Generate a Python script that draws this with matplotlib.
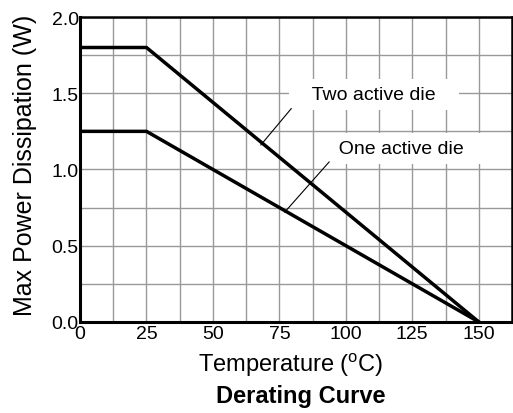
import matplotlib
matplotlib.use("Agg")
import matplotlib.pyplot as plt
import numpy as np

plt.rcParams["font.family"] = ["Liberation Sans", "DejaVu Sans"]

# derating data
temp = [0, 25, 150]
two_die = [1.8, 1.8, 0.0]
one_die = [1.25, 1.25, 0.0]
xticks = [0, 25, 50, 75, 100, 125, 150]
yticks = [0.0, 0.5, 1.0, 1.5, 2.0]

fig = plt.figure(figsize=(5.13, 4.14), dpi=100)
ax = fig.add_axes([0.156, 0.22, 0.842, 0.7365])

ax.set_xlim(0, 162.5)
ax.set_ylim(0, 2.0)
ax.set_xticks(np.arange(0, 162.6, 12.5), minor=True)
ax.set_yticks(np.arange(0, 2.01, 0.25), minor=True)
ax.set_xticks(xticks)
ax.set_yticks(yticks)
ax.set_yticklabels([f"{v:.1f}" for v in yticks])
ax.grid(True, which="both", color="#999999", lw=1)
ax.set_axisbelow(True)
ax.tick_params(which="both", length=0, labelsize=14)
ax.tick_params(axis="x", pad=2)
ax.tick_params(axis="y", pad=1)

ax.plot(temp, two_die, color="black", lw=2.5, zorder=3)
ax.plot(temp, one_die, color="black", lw=2.5, zorder=3)

box = dict(facecolor="white", edgecolor="none", pad=5)
ax.text(110.6, 1.49, "   Two active die   ", ha="center", va="center",
        fontsize=14, bbox=box, zorder=2)
ax.text(121, 1.14, "  One active die  ", ha="center", va="center",
        fontsize=14, bbox=box, zorder=2)
lead = dict(arrowstyle="-", lw=0.8, color="black", shrinkA=0, shrinkB=0)
ax.annotate("", xy=(68.0, 1.16), xytext=(79.5, 1.40), arrowprops=lead, zorder=4)
ax.annotate("", xy=(77.0, 0.72), xytext=(93.75, 1.05), arrowprops=lead, zorder=4)

for s in ["left", "bottom"]:
    ax.spines[s].set_linewidth(2.2)
for s in ["top", "right"]:
    ax.spines[s].set_linewidth(1.8)

ax.set_xlabel(r"Temperature ($^\mathregular{o}$C)", fontsize=17, va="center")
ax.xaxis.set_label_coords(0.488, -0.138)
ax.set_ylabel("Max Power Dissipation (W)", fontsize=18, va="center")
ax.yaxis.set_label_coords(-0.127, 0.518)
fig.text(0.587, 0.027, "Derating Curve", ha="center", va="baseline",
         fontsize=17, fontweight="bold")

fig.savefig("out.png", dpi=100)
